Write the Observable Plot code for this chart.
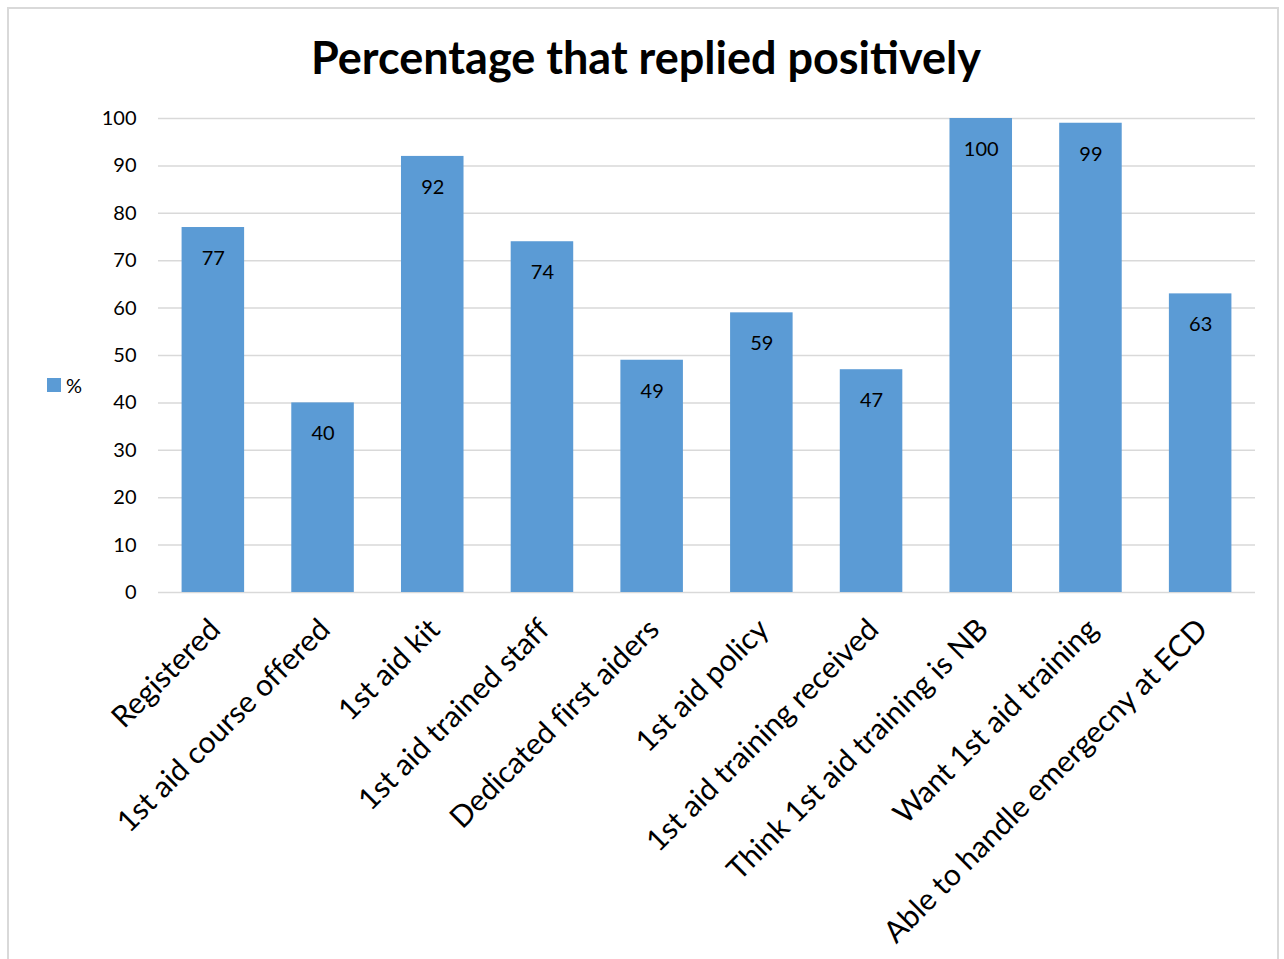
<!DOCTYPE html>
<html>
<head>
<meta charset="utf-8">
<script src="https://cdn.jsdelivr.net/npm/d3@7"></script>
<script src="https://cdn.jsdelivr.net/npm/@observablehq/plot@0.6"></script>
<style>
  html, body { margin: 0; padding: 0; background: #fff; }
  body { width: 1284px; height: 959px; position: relative; overflow: hidden; font-family: Lato, "Open Sans", sans-serif; }
  #frame { position: absolute; left: 7px; top: 7px; width: 1272px; height: 960px; border: 2px solid #d9d9d9; box-sizing: border-box; }
  #title { position: absolute; left: 8px; width: 1276px; top: 32px; text-align: center; font-weight: bold; font-size: 45px; color: #000; line-height: 50px; }
  #legend { position: absolute; left: 47px; top: 373px; font-size: 20px; color: #000; display: flex; align-items: center; }
  #legend span.sw { display: inline-block; width: 14px; height: 14px; background: #5b9bd5; margin-right: 5px; }
  #chart { position: absolute; left: 0; top: 0; }
  svg text { font-variant-ligatures: none; }
</style>
</head>
<body>
<div id="frame"></div>
<div id="chart"></div>
<div id="title">Percentage that replied positively</div>
<div id="legend"><span class="sw"></span><span>%</span></div>
<script>
const categories = [
  "Registered",
  "1st aid course offered",
  "1st aid kit",
  "1st aid trained staff",
  "Dedicated first aiders",
  "1st aid policy",
  "1st aid training received",
  "Think 1st aid training is NB",
  "Want 1st aid training",
  "Able to handle emergecny at ECD"
];
const values = [77, 40, 92, 74, 49, 59, 47, 100, 99, 63];
const yTicks = [0, 10, 20, 30, 40, 50, 60, 70, 80, 90, 100];

const data = categories.map((c, i) => ({category: c, value: values[i]}));

const chart = Plot.plot({
  width: 1284,
  height: 959,
  marginLeft: 158,
  marginRight: 29,
  marginTop: 118,
  marginBottom: 367,
  style: {fontFamily: "Lato, 'Open Sans', sans-serif", background: "transparent", color: "#000"},
  x: {domain: categories, paddingInner: 0.43, paddingOuter: 0.215, round: false, axis: null},
  y: {domain: [0, 100], axis: null},
  marks: [
    Plot.gridY(yTicks, {stroke: "#d9d9d9", strokeOpacity: 1, strokeWidth: 1.5}),
    Plot.barY(data, {x: "category", y: "value", fill: "#5b9bd5"}),
    Plot.text(data, {x: "category", y: "value", text: d => String(d.value), dy: 31, fontSize: 20, fill: "#000"}),
    Plot.axisY(yTicks, {tickSize: 0, tickPadding: 22, fontSize: 20, label: null, tickFormat: d => String(d)}),
    Plot.text(categories, {x: d => d, frameAnchor: "bottom", rotate: -45, textAnchor: "end", lineAnchor: "middle", dy: 32, dx: 2, fontSize: 30, fill: "#000"})
  ]
});
document.getElementById("chart").appendChild(chart);
</script>
</body>
</html>
